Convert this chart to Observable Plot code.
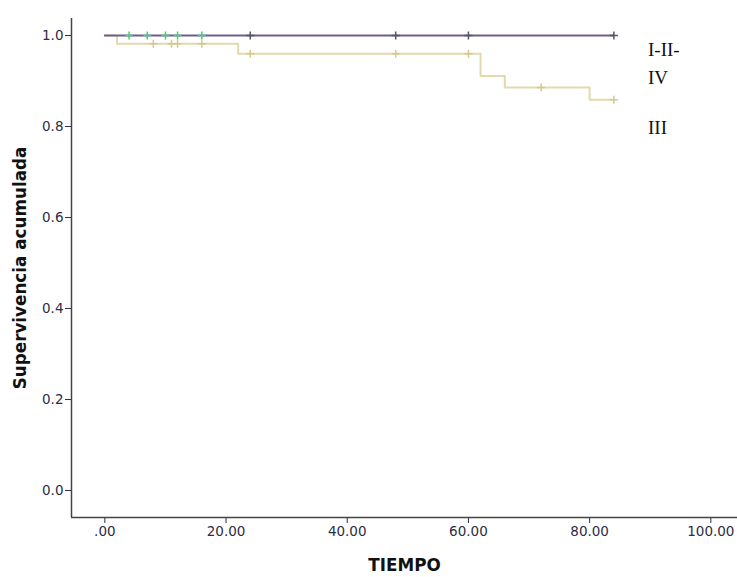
<!DOCTYPE html>
<html><head><meta charset="utf-8">
<script src="https://cdn.jsdelivr.net/npm/d3@7"></script>
<script src="https://cdn.jsdelivr.net/npm/@observablehq/plot@0.6"></script>
<style>
body{margin:0;background:#fff;}
#wrap{position:relative;width:737px;height:577px;}
.leg{position:absolute;left:648px;font-family:"Liberation Serif","Times New Roman",serif;font-size:19px;color:#111;line-height:28px;white-space:pre-line;}
g[aria-label="x-axis label"] text, g[aria-label="y-axis label"] text{font-family:"DejaVu Sans",sans-serif;font-weight:bold;font-size:16.8px;fill:#111;}
</style></head><body><div id="wrap"></div>
<script>
// Kaplan-Meier step curves
const groupA_times = [0, 84];
const groupA_surv  = [1, 1];
const groupB_times = [0, 2, 22, 62, 66, 80, 84];
const groupB_surv  = [1, 0.982, 0.960, 0.911, 0.886, 0.859, 0.859];
// censored observations
const censorA_times = [4, 7, 10, 12, 16, 24, 48, 60, 84];
const censorA_kind  = ["g","g","g","g","g","d","d","d","d"];
const censorB_times = [8, 11, 12, 16, 24, 48, 60, 72, 84];
const xTicks = [0, 20, 40, 60, 80, 100];
const yTicks = [0, 0.2, 0.4, 0.6, 0.8, 1.0];
const legendLabels = ["I-II-IV", "III"];

const xDomain = [-5.5, 104.4], yDomain = [-0.0593, 1.0374];
const seriesA = groupA_times.map((t,i)=>({t, s: groupA_surv[i]}));
const seriesB = groupB_times.map((t,i)=>({t, s: groupB_surv[i]}));
const stepAt = (times, surv, t) => { let v = surv[0]; times.forEach((tt,i)=>{ if (tt <= t) v = surv[i]; }); return v; };
const censorA = censorA_times.map((t,i)=>({t, s: stepAt(groupA_times, groupA_surv, t), k: censorA_kind[i]}));
const censorB = censorB_times.map(t=>({t, s: stepAt(groupB_times, groupB_surv, t)}));

const plot = Plot.plot({
  width: 737, height: 577,
  marginLeft: 71, marginRight: 0, marginTop: 18, marginBottom: 60,
  style: {fontFamily: "'DejaVu Sans', sans-serif", fontSize: "13.5px", color: "#2c2c48", background: "transparent"},
  x: {domain: xDomain, ticks: xTicks, tickFormat: d => d === 0 ? ".00" : d.toFixed(2), label: "TIEMPO", labelAnchor: "center", labelOffset: 53, tickSize: 6, tickPadding: 3, labelArrow: "none"},
  y: {domain: yDomain, ticks: yTicks, tickFormat: d => d.toFixed(1), label: "Supervivencia acumulada", labelAnchor: "center", labelOffset: 57, tickSize: 6, tickPadding: 2, labelArrow: "none"},
  marks: [
    Plot.ruleX([xDomain[0]], {stroke: "#444", strokeWidth: 1.5}),
    Plot.ruleY([yDomain[0]], {stroke: "#444", strokeWidth: 1.5}),
    Plot.line(seriesB, {x: "t", y: "s", curve: "step-after", stroke: "#e3d9ab", strokeWidth: 2}),
    Plot.dot(censorB, {x: "t", y: "s", symbol: "plus", r: 2.7, stroke: "#d4c88e", strokeWidth: 1.5}),
    Plot.line(seriesA, {x: "t", y: "s", curve: "step-after", stroke: "#6d5f8c", strokeWidth: 2}),
    Plot.dot(censorA, {x: "t", y: "s", symbol: "plus", r: 2.7, stroke: d => d.k === "g" ? "#3fd46a" : "#555566", strokeWidth: 1.5})
  ]
});
const wrap = document.getElementById("wrap");
wrap.appendChild(plot);
const tops = [36, 114];
legendLabels.forEach((lab, i) => {
  const d = document.createElement("div");
  d.className = "leg";
  d.style.top = tops[i] + "px";
  d.textContent = lab.replace("II-", "II-\n");
  wrap.appendChild(d);
});
</script></body></html>
